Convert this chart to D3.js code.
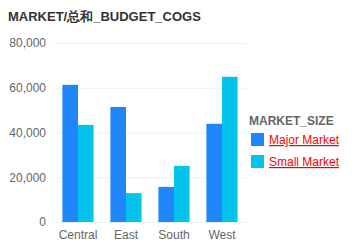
<!DOCTYPE html>
<html>
<head>
<meta charset="utf-8">
<script src="https://cdn.jsdelivr.net/npm/d3@7"></script>
<style>
  body { margin: 0; background: #fff; }
  svg { display: block; font-family: Arial, "Liberation Sans", sans-serif; }
</style>
</head>
<body>
<svg id="chart" width="360" height="248"></svg>
<script>
// data
const regions = ["Central", "East", "South", "West"];
const seriesNames = ["Major Market", "Small Market"];
const majorMarket = [61300, 51400, 15700, 43900];
const smallMarket = [43400, 12900, 25100, 64900];
const yTicks = [0, 20000, 40000, 60000, 80000];

const colors = ["#1f87fb", "#03c3ec"];
const svg = d3.select("#chart");

// title
svg.append("text")
  .attr("x", 8).attr("y", 21)
  .attr("font-size", 13).attr("font-weight", "bold")
  .attr("fill", "#333")
  .text("MARKET/总和_BUDGET_COGS");

const plot = { left: 54, right: 246, top: 43, bottom: 222 };

const x = d3.scaleBand().domain(regions).range([plot.left, plot.right]).paddingInner(0.35).paddingOuter(0.175);
const xs = d3.scaleBand().domain(seriesNames).range([0, x.bandwidth()]);
const y = d3.scaleLinear().domain([0, 80000]).range([plot.bottom, plot.top]);

// gridlines
svg.append("g").selectAll("line").data(yTicks).enter().append("line")
  .attr("x1", plot.left).attr("x2", plot.right)
  .attr("y1", d => y(d) + 0.5).attr("y2", d => y(d) + 0.5)
  .attr("stroke", "#efefef");

// y axis labels
const yAxis = svg.append("g")
  .attr("transform", `translate(${plot.left - 8},0)`)
  .call(d3.axisLeft(y).tickValues(yTicks).tickSize(0).tickPadding(0).tickFormat(d3.format(",")));
yAxis.select(".domain").remove();
yAxis.selectAll("text").attr("font-size", 12).attr("fill", "#666").attr("font-family", "Arial, 'Liberation Sans', sans-serif");

// bars
const rows = regions.map((r, i) => ({ region: r, values: [majorMarket[i], smallMarket[i]] }));
const groups = svg.append("g").selectAll("g").data(rows).enter().append("g")
  .attr("transform", d => `translate(${x(d.region)},0)`);
groups.selectAll("rect")
  .data(d => d.values.map((v, j) => ({ key: seriesNames[j], value: v, j })))
  .enter().append("rect")
  .attr("x", d => xs(d.key))
  .attr("width", xs.bandwidth())
  .attr("y", d => y(d.value))
  .attr("height", d => y(0) - y(d.value))
  .attr("fill", d => colors[d.j]);

// x axis labels
const xAxis = svg.append("g")
  .attr("transform", `translate(0,${plot.bottom})`)
  .call(d3.axisBottom(x).tickSize(0).tickPadding(8));
xAxis.select(".domain").remove();
xAxis.selectAll("text").attr("font-size", 12).attr("fill", "#666").attr("font-family", "Arial, 'Liberation Sans', sans-serif");

// legend
const legend = svg.append("g").attr("transform", "translate(249,0)");
legend.append("text")
  .attr("x", 0).attr("y", 125)
  .attr("font-size", 12).attr("font-weight", "bold").attr("fill", "#666")
  .text("MARKET_SIZE");
const items = legend.selectAll("g.item").data(seriesNames).enter().append("g")
  .attr("class", "item")
  .attr("transform", (d, i) => `translate(0,${133 + i * 22})`);
items.append("rect")
  .attr("x", 2).attr("y", 0).attr("width", 13).attr("height", 13)
  .attr("fill", (d, i) => colors[i]);
items.append("text")
  .attr("x", 20).attr("y", 11)
  .attr("font-size", 12).attr("fill", "#f00")
  .attr("text-decoration", "underline")
  .text(d => d);
</script>
</body>
</html>
